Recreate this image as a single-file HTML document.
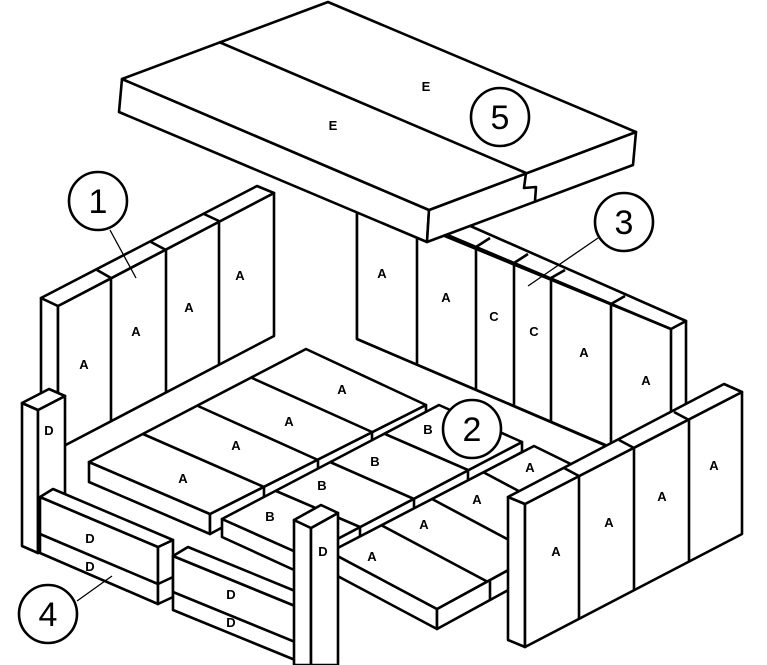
<!DOCTYPE html>
<html><head><meta charset="utf-8"><style>
html,body{margin:0;padding:0;background:#fff}
svg{display:block}
text{font-family:"Liberation Sans",Arial,sans-serif;font-weight:bold;font-size:13px;text-anchor:middle}
.n{font-family:"Liberation Sans",Arial,sans-serif;font-weight:normal;font-size:34px;text-anchor:middle}
</style></head><body>
<svg width="767" height="665" viewBox="0 0 767 665" xmlns="http://www.w3.org/2000/svg">
<g fill="#fff" stroke="#000" stroke-width="2.6" stroke-linejoin="round">
<!-- left wall (1) -->
<polygon points="41,298 58,306 58,449 41,441"/>
<polygon points="58,306 274,193 274,336 58,449"/>
<polygon points="41,298 257,186 274,193 58,306"/>
<line x1="111" y1="278" x2="111" y2="421"/>
<line x1="166" y1="250" x2="166" y2="392"/>
<line x1="219" y1="221" x2="219" y2="364"/>
<line x1="97" y1="270" x2="111" y2="278"/>
<line x1="151" y1="242" x2="166" y2="250"/>
<line x1="204" y1="214" x2="219" y2="221"/>
<!-- back right wall (3) -->
<polygon points="357,200 686,321 686,480 357,339"/>
<polygon points="357,200 671,329 671,473 357,339"/>
<polygon points="400,195 686,321 671,329 400,215"/>
<line x1="417" y1="235" x2="417" y2="365"/>
<line x1="476" y1="247" x2="476" y2="390"/>
<line x1="514" y1="263" x2="514" y2="406"/>
<line x1="551" y1="278" x2="551" y2="422"/>
<line x1="611" y1="304" x2="611" y2="447"/>
<line x1="476" y1="247" x2="490" y2="238"/>
<line x1="514" y1="263" x2="528" y2="254"/>
<line x1="551" y1="278" x2="565" y2="270"/>
<line x1="611" y1="304" x2="625" y2="296"/>
<!-- slab E (5) -->
<polygon points="122,79 429,210 427,242 119,112"/>
<polygon points="429,210 636,132 633,165 427,242"/>
<polygon points="122,79 328,2 636,132 429,210"/>
<line x1="219" y1="42" x2="526" y2="173"/>
<polyline fill="none" points="526,173 524,188 536,187 535,201"/>
<!-- floor A left row -->
<polygon points="89,462 210,514 210,534 89,482"/>
<polygon points="210,514 426,405 426,418 210,534"/>
<polygon points="89,462 306,349 426,405 210,514"/>
<line x1="143" y1="434" x2="264" y2="487"/>
<line x1="198" y1="406" x2="318" y2="460"/>
<line x1="252" y1="378" x2="372" y2="432"/>
<line x1="264" y1="487" x2="264" y2="505"/>
<line x1="318" y1="460" x2="318" y2="477"/>
<line x1="372" y1="432" x2="372" y2="449"/>
<!-- B row -->
<polygon points="222,519 305,556 305,575 222,537"/>
<polygon points="305,556 522,442 522,452 305,575"/>
<polygon points="222,519 439,405 522,442 305,556"/>
<line x1="276" y1="491" x2="360" y2="527"/>
<line x1="330" y1="462" x2="414" y2="499"/>
<line x1="385" y1="434" x2="468" y2="470"/>
<line x1="360" y1="527" x2="360" y2="546"/>
<line x1="414" y1="499" x2="414" y2="517"/>
<line x1="468" y1="470" x2="468" y2="488"/>
<!-- right A row -->
<polygon points="330,552 437,609 437,629 330,572"/>
<polygon points="437,609 640,498 640,518 437,629"/>
<polygon points="330,552 534,446 640,498 437,609"/>
<line x1="381" y1="525" x2="488" y2="582"/>
<line x1="432" y1="499" x2="539" y2="556"/>
<line x1="483" y1="472" x2="590" y2="529"/>
<line x1="490" y1="581" x2="490" y2="601"/>
<!-- left post D -->
<polygon points="22,403 38,410 38,553 22,546"/>
<polygon points="38,410 65,396 65,540 38,553"/>
<polygon points="22,403 49,389 65,396 38,410"/>
<!-- left D blocks (4) -->
<polygon points="40,497 158,547 158,604 40,553"/>
<polygon points="158,547 173,540 173,597 158,604"/>
<polygon points="40,497 53,489 173,540 158,547"/>
<line x1="40" y1="534" x2="158" y2="584"/>
<line x1="158" y1="584" x2="173" y2="577"/>
<!-- middle D blocks -->
<polygon points="173,556 300,608 300,662 173,610"/>
<polygon points="173,556 188,547 300,593 300,608"/>
<line x1="173" y1="592" x2="300" y2="644"/>
<!-- front post D -->
<polygon points="294,520 311,528 311,665 294,665"/>
<polygon points="311,528 338,513 338,665 311,665"/>
<polygon points="294,520 321,505 338,513 311,528"/>
<!-- right front wall -->
<polygon points="508,497 525,504 525,647 508,640"/>
<polygon points="525,504 742,392 742,534 525,647"/>
<polygon points="508,497 724,384 742,392 525,504"/>
<line x1="579" y1="476" x2="579" y2="619"/>
<line x1="634" y1="448" x2="634" y2="590"/>
<line x1="689" y1="420" x2="689" y2="562"/>
<line x1="564" y1="468" x2="579" y2="476"/>
<line x1="619" y1="440" x2="634" y2="448"/>
<line x1="674" y1="412" x2="689" y2="420"/>
<!-- circles -->
<circle cx="98" cy="201" r="29"/>
<circle cx="500" cy="117" r="29"/>
<circle cx="624" cy="222" r="29"/>
<circle cx="472" cy="429" r="29"/>
<circle cx="48" cy="614" r="29"/>
</g>
<g stroke="#000" stroke-width="1.3">
<line x1="110" y1="230" x2="136" y2="278"/>
<line x1="598" y1="238" x2="528" y2="286"/>
<line x1="77" y1="601" x2="112" y2="576"/>
</g>
<g>
<text x="84" y="369">A</text><text x="136" y="336">A</text><text x="189" y="312">A</text><text x="240" y="280">A</text>
<text x="382" y="278">A</text><text x="446" y="302">A</text><text x="494" y="321">C</text><text x="534" y="336">C</text><text x="584" y="357">A</text><text x="646" y="385">A</text>
<text x="183" y="483">A</text><text x="236" y="450">A</text><text x="289" y="426">A</text><text x="342" y="394">A</text>
<text x="270" y="521">B</text><text x="322" y="490">B</text><text x="375" y="466">B</text><text x="428" y="434">B</text>
<text x="372" y="561">A</text><text x="424" y="529">A</text><text x="477" y="504">A</text><text x="530" y="472">A</text>
<text x="556" y="556">A</text><text x="609" y="527">A</text><text x="662" y="501">A</text><text x="714" y="470">A</text>
<text x="49" y="435">D</text><text x="90" y="543">D</text><text x="90" y="571">D</text><text x="231" y="599">D</text><text x="231" y="627">D</text><text x="323" y="556">D</text>
<text x="333" y="130">E</text><text x="426" y="91">E</text>
<text class="n" x="98" y="213">1</text>
<text class="n" x="500" y="129">5</text>
<text class="n" x="624" y="234">3</text>
<text class="n" x="472" y="441">2</text>
<text class="n" x="48" y="626">4</text>
</g>
</svg>
</body></html>
